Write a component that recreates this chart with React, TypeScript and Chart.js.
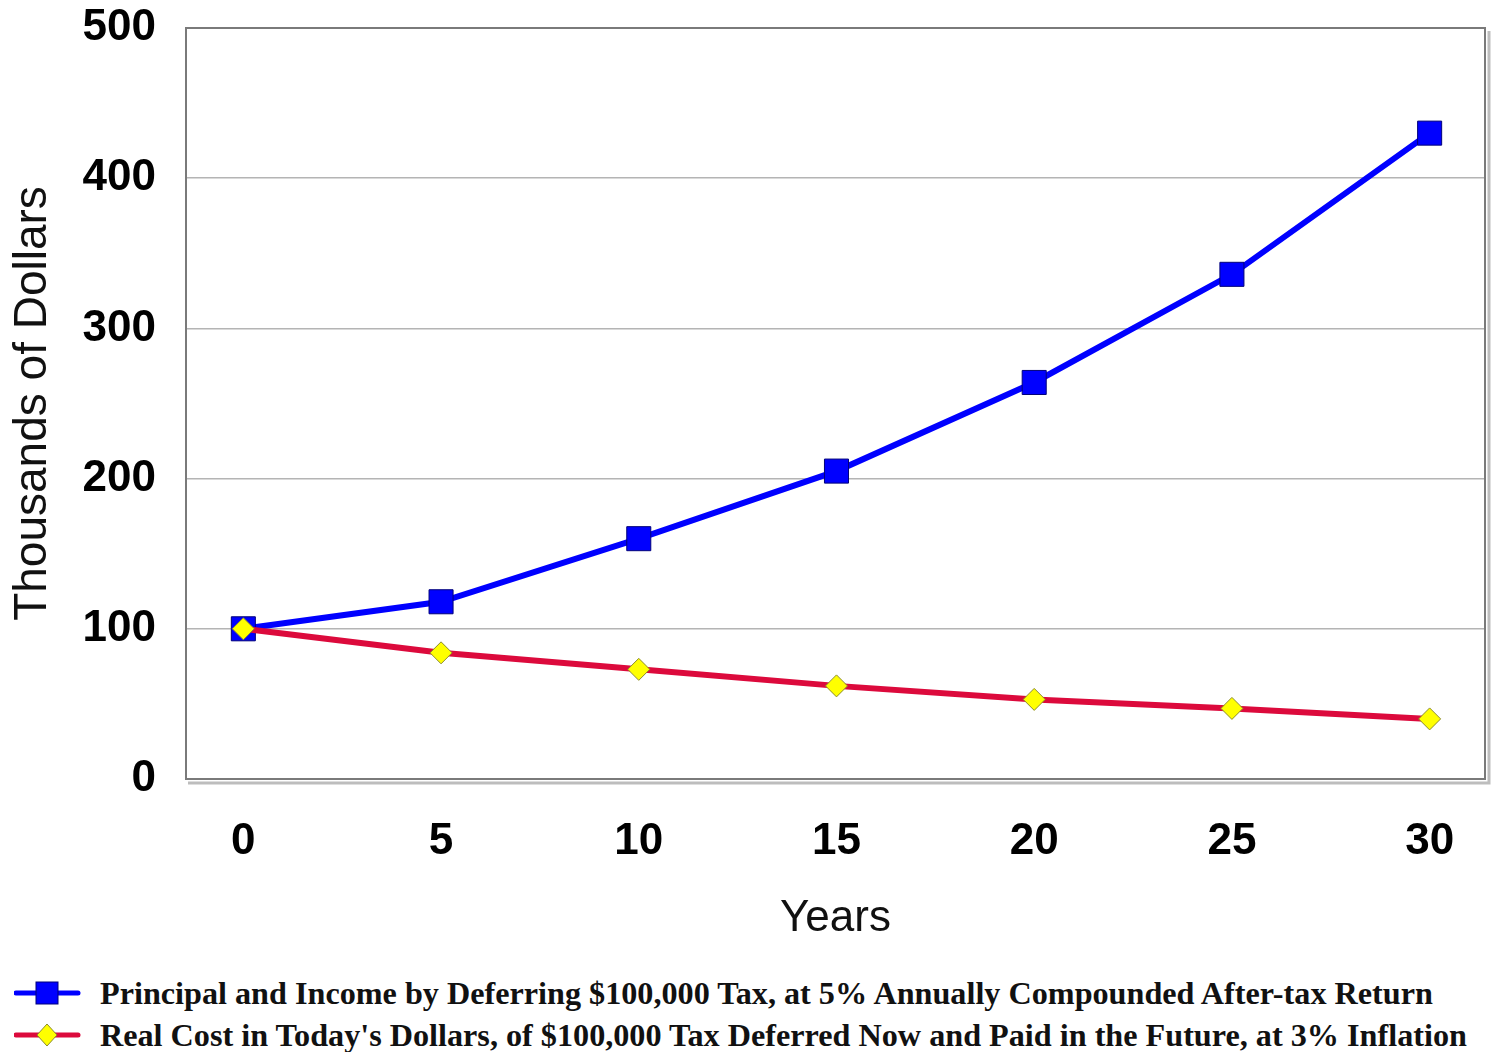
import React, { useEffect, useRef } from "react";
import { Chart, registerables } from "chart.js";

Chart.register(...registerables);

const years = [0, 5, 10, 15, 20, 25, 30];
const principalValues = [100, 118, 160, 205, 264, 336, 430];
const realCostValues = [100, 84, 73, 62, 53, 47, 40];
const yTicks = [0, 100, 200, 300, 400, 500];
const principalLabel =
  "Principal and Income by Deferring $100,000 Tax, at 5% Annually Compounded After-tax Return";
const realCostLabel =
  "Real Cost in Today's Dollars, of $100,000 Tax Deferred Now and Paid in the Future, at 3% Inflation";

const framePlugin = {
  id: "frame",
  beforeDatasetsDraw(chart: any) {
    const { ctx, chartArea } = chart;
    const { left, right, top, bottom } = chartArea;
    ctx.save();
    ctx.strokeStyle = "#bdbdbd";
    ctx.lineWidth = 3;
    ctx.beginPath();
    ctx.moveTo(left + 2, bottom + 4);
    ctx.lineTo(right + 4, bottom + 4);
    ctx.lineTo(right + 4, top + 3);
    ctx.stroke();
    ctx.strokeStyle = "#7a7a7a";
    ctx.lineWidth = 2;
    ctx.strokeRect(left, top, right - left, bottom - top);
    ctx.restore();
  },
};

function zeroPadding(scale: any) {
  scale.paddingTop = 0;
  scale.paddingBottom = 0;
  scale.paddingLeft = 0;
  scale.paddingRight = 0;
}

function LegendItem({ kind, text }: { kind: "square" | "diamond"; text: string }) {
  return (
    <div style={{ display: "flex", alignItems: "center", height: 42 }}>
      <svg width={84} height={30} style={{ marginLeft: 14, flex: "none" }}>
        <line
          x1={2}
          y1={15}
          x2={64}
          y2={15}
          stroke={kind === "square" ? "#0000ff" : "#dc0a3c"}
          strokeWidth={5}
          strokeLinecap="round"
        />
        {kind === "square" ? (
          <rect x={22} y={4} width={22} height={22} fill="#0000ff" stroke="#00007a" strokeWidth={1} />
        ) : (
          <polygon points="33,4 43,15 33,26 23,15" fill="#ffff00" stroke="#8a8a30" strokeWidth={1} />
        )}
      </svg>
      <span
        style={{
          fontFamily: "'Liberation Serif', 'Times New Roman', serif",
          fontWeight: "bold",
          fontSize: 32.2,
          color: "#111",
          whiteSpace: "nowrap",
          marginLeft: 2,
        }}
      >
        {text}
      </span>
    </div>
  );
}

export default function App() {
  const canvasRef = useRef<HTMLCanvasElement | null>(null);

  useEffect(() => {
    document.body.style.margin = "0";
    const canvas = canvasRef.current;
    if (!canvas) return;
    const chart = new Chart(canvas, {
      type: "line",
      data: {
        datasets: [
          {
            label: principalLabel,
            data: years.map((x, i) => ({ x, y: principalValues[i] })),
            borderColor: "#0000ff",
            backgroundColor: "#0000ff",
            borderWidth: 6,
            pointStyle: "rect",
            pointRadius: 17,
            pointBorderColor: "#00007a",
            pointBorderWidth: 1,
            pointBackgroundColor: "#0000ff",
            order: 2,
          },
          {
            label: realCostLabel,
            data: years.map((x, i) => ({ x, y: realCostValues[i] })),
            borderColor: "#dc0a3c",
            backgroundColor: "#ffff00",
            borderWidth: 6,
            pointStyle: "rectRot",
            pointRadius: 11,
            pointBorderColor: "#8a8a30",
            pointBorderWidth: 1,
            pointBackgroundColor: "#ffff00",
            order: 1,
          },
        ],
      },
      options: {
        animation: false,
        responsive: false,
        devicePixelRatio: 1,
        layout: { padding: { top: 28, right: 8, left: 0, bottom: 0 } },
        plugins: {
          legend: { display: false },
          tooltip: { enabled: false },
        },
        scales: {
          x: {
            type: "linear",
            min: -1.45,
            max: 31.4,
            afterBuildTicks: (scale: any) => {
              scale.ticks = years.map((v) => ({ value: v }));
            },
            afterFit: (scale: any) => {
              scale.height = 181;
              zeroPadding(scale);
            },
            grid: { display: false, drawTicks: false },
            border: { display: false },
            ticks: {
              padding: 36,
              color: "#000",
              font: { family: "'Liberation Sans', Arial, sans-serif", size: 44, weight: "bold" },
              callback: (v: any) => String(v),
            },
            title: {
              display: true,
              text: "Years",
              color: "#111",
              font: { family: "'Liberation Sans', Arial, sans-serif", size: 44 },
              padding: { top: 0, bottom: 15 },
            },
          },
          y: {
            min: 0,
            max: 500,
            afterBuildTicks: (scale: any) => {
              scale.ticks = yTicks.map((v) => ({ value: v }));
            },
            afterFit: (scale: any) => {
              scale.width = 186;
              zeroPadding(scale);
            },
            grid: { color: "#b4b4b4", lineWidth: 1.5, drawTicks: false },
            border: { display: false },
            ticks: {
              padding: 30,
              color: "#000",
              font: { family: "'Liberation Sans', Arial, sans-serif", size: 44, weight: "bold" },
            },
            title: {
              display: true,
              text: "Thousands of Dollars",
              color: "#111",
              font: { family: "'Liberation Sans', Arial, sans-serif", size: 46 },
              padding: { top: 6, bottom: 0 },
            },
          },
        },
      },
      plugins: [framePlugin],
    });
    return () => chart.destroy();
  }, []);

  return (
    <div style={{ position: "relative", width: 1503, height: 1052, background: "#fff", overflow: "hidden" }}>
      <canvas ref={canvasRef} width={1503} height={960} style={{ display: "block" }} />
      <div style={{ position: "absolute", left: 0, top: 972 }}>
        <LegendItem kind="square" text={principalLabel} />
        <LegendItem kind="diamond" text={realCostLabel} />
      </div>
    </div>
  );
}
